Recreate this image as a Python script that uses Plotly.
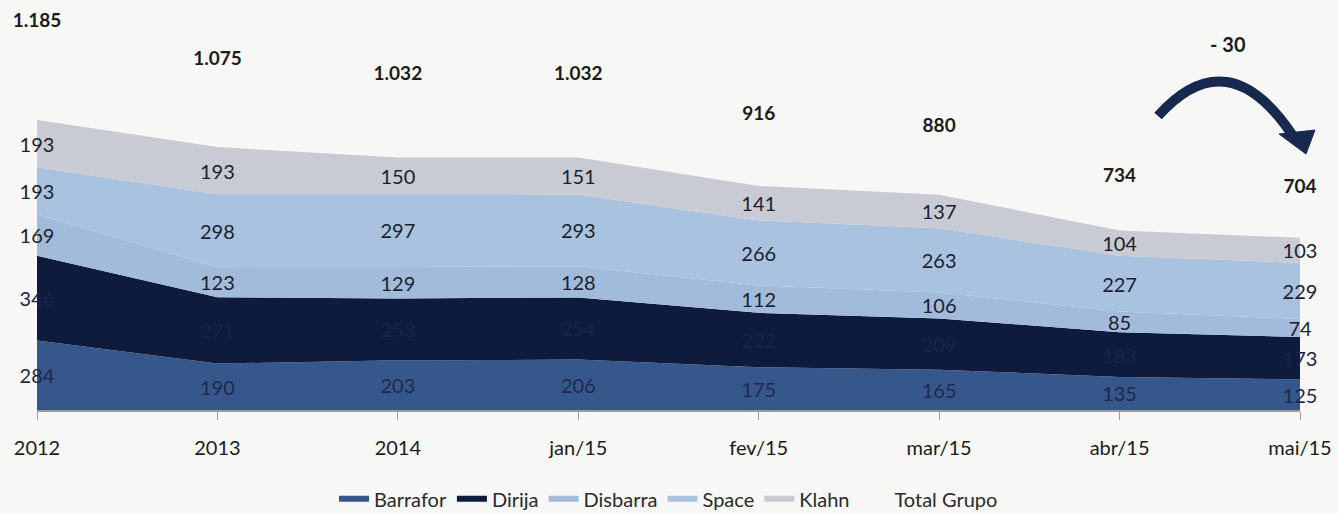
import plotly.graph_objects as go

periods = ["2012", "2013", "2014", "jan/15", "fev/15", "mar/15", "abr/15", "mai/15"]
barrafor = [284, 190, 203, 206, 175, 165, 135, 125]
dirija = [346, 271, 253, 254, 222, 209, 183, 173]
disbarra = [169, 123, 129, 128, 112, 106, 85, 74]
space = [193, 298, 297, 293, 266, 263, 227, 229]
klahn = [193, 193, 150, 151, 141, 137, 104, 103]
total = [1185, 1075, 1032, 1032, 916, 880, 734, 704]
variation = "- 30"

series = [
    ("Barrafor", barrafor, "#36578c", "#1c2a4a"),
    ("Dirija", dirija, "#0f1b3d", "#18244a"),
    ("Disbarra", disbarra, "#a2bbdb", "#1b1f2e"),
    ("Space", space, "#a8c2e0", "#1b1f2e"),
    ("Klahn", klahn, "#c8cbd3", "#1b1f2e"),
]

W, H = 1338, 514
ML, MR, MT, MB = 37, 38, 10, 104
PW, PH = W - ML - MR, H - MT - MB


def px(x, y):
    # pixel position -> paper coords, used only for the decorative arrow
    return (x - ML) / PW, (H - MB - y) / PH


FONT = "Lato"
fig = go.Figure()

base = [0] * len(periods)
for name, vals, color, tcolor in series:
    fig.add_trace(go.Scatter(
        x=periods, y=vals, name=name, stackgroup="one", mode="none",
        fillcolor=color, hoverinfo="skip",
    ))
    mids = [b + v / 2 - 12 for b, v in zip(base, vals)]
    fig.add_trace(go.Scatter(
        x=periods, y=mids, mode="text", text=[str(v) for v in vals],
        textfont=dict(family=FONT, size=20, color=tcolor),
        showlegend=False, cliponaxis=False, hoverinfo="skip",
    ))
    base = [b + v for b, v in zip(base, vals)]

fig.add_trace(go.Scatter(
    x=periods, y=total, name="Total Grupo", mode="lines+text", yaxis="y2",
    line=dict(width=0, color="rgba(0,0,0,0)"),
    text=[f"{v:,}".replace(",", ".") for v in total],
    textfont=dict(family=FONT, size=19, color="#1b1b1b", weight="bold"),
    cliponaxis=False, hoverinfo="skip",
))

# curved arrow abr/15 -> mai/15
x0, y0 = px(1158, 116)
cx, cy = px(1228, 38)
x1, y1 = px(1293, 136)
fig.add_shape(type="path", xref="paper", yref="paper",
              path=f"M {x0},{y0} Q {cx},{cy} {x1},{y1}",
              line=dict(color="#17294f", width=10))
a, b = px(1279, 134)
c, d = px(1315, 130)
e, f = px(1306, 154)
fig.add_shape(type="path", xref="paper", yref="paper",
              path=f"M {a},{b} L {c},{d} L {e},{f} Z",
              fillcolor="#17294f", line=dict(color="#17294f", width=1))
tx, ty = px(1228, 44)
fig.add_annotation(x=tx, y=ty, xref="paper", yref="paper", text=f"<b>{variation}</b>",
                   xanchor="center", yanchor="middle",
                   showarrow=False, font=dict(family=FONT, size=20, color="#1b1b1b"))

fig.update_layout(
    width=W, height=H,
    margin=dict(l=ML, r=MR, t=MT, b=MB, autoexpand=False),
    paper_bgcolor="#f7f7f6", plot_bgcolor="#f7f7f6",
    font=dict(family=FONT, size=20, color="#1b1b1b"),
    showlegend=True,
    legend=dict(orientation="h", x=0.5, xanchor="center", y=-0.222, yanchor="middle",
                traceorder="normal", font=dict(family=FONT, size=20, color="#2a2a2a"),
                itemwidth=30, bgcolor="rgba(0,0,0,0)"),
    xaxis=dict(type="category", range=[0, len(periods) - 1], showgrid=False,
               showline=True, linecolor="#9a9a9a", linewidth=1.5, automargin=False,
               ticks="outside", ticklen=8, tickcolor="#9a9a9a",
               ticklabelstandoff=11, tickfont=dict(family=FONT, size=20, color="#1b1b1b")),
    yaxis=dict(range=[0, 1635], visible=False, showgrid=False),
    yaxis2=dict(range=[61, 1220], overlaying="y", visible=False, showgrid=False),
)

fig.write_html("out.html", config={"displayModeBar": False},
               post_script="document.body.style.margin='0';")
